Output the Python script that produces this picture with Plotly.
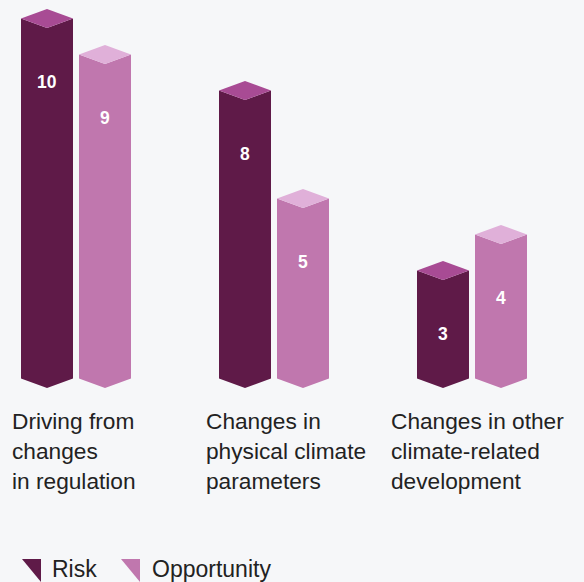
import plotly.graph_objects as go

# ---- data ----
categories = [
    ["Driving from", "changes", "in regulation"],
    ["Changes in", "physical climate", "parameters"],
    ["Changes in other", "climate-related", "development"],
]
series_names = ["Risk", "Opportunity"]
risk_values = [10, 8, 3]
opportunity_values = [9, 5, 4]

# ---- styles ----
W, H = 584, 582
BG = "#f6f7f9"
body_colors = {"Risk": "#5f1a48", "Opportunity": "#c077ae"}
top_colors = {"Risk": "#a84b94", "Opportunity": "#e0b0d9"}
FONT = "Liberation Sans, Arial, Helvetica, sans-serif"

UNIT_PX = 36.0          # pixels per value unit
BASE_PX = 388.0         # pixel row of value 0 (bottom point of bar)
Y_MIN = (BASE_PX - H) / UNIT_PX
Y_MAX = BASE_PX / UNIT_PX
D = 9.5 / UNIT_PX       # half height of the rhombus cap (value units)

GROUP_X0, GROUP_STEP = 76, 198
BAR_OFFSET, BAR_HALF = 29, 26


def py(p):
    """pixel row -> y data value"""
    return (BASE_PX - p) / UNIT_PX


fig = go.Figure()

series_values = {"Risk": risk_values, "Opportunity": opportunity_values}
for s_idx, name in enumerate(series_names):
    vals = series_values[name]
    for g, v in enumerate(vals):
        c = GROUP_X0 + GROUP_STEP * g + (BAR_OFFSET if s_idx else -BAR_OFFSET)
        L, R = c - BAR_HALF, c + BAR_HALF
        # body
        fig.add_trace(go.Scatter(
            x=[L, L, c, R, R, c, L], y=[D, v + D, v, v + D, D, 0, D],
            fill="toself", fillcolor=body_colors[name], mode="lines",
            line=dict(width=0), hoverinfo="skip", showlegend=False))
        # cap
        fig.add_trace(go.Scatter(
            x=[L, c, R, c, L], y=[v + D, v + 2 * D, v + D, v, v + D],
            fill="toself", fillcolor=top_colors[name], mode="lines",
            line=dict(width=0), hoverinfo="skip", showlegend=False))
        fig.add_annotation(x=c, y=v - 54 / UNIT_PX, text=f"<b>{v}</b>",
                           showarrow=False, xanchor="center", yanchor="middle",
                           font=dict(family=FONT, size=17.5, color="white"))

# category labels
label_x = [10, 204, 389]
for g, lines in enumerate(categories):
    for i, line in enumerate(lines):
        fig.add_annotation(x=label_x[g], y=py(421 + 30 * i), text=line,
                           showarrow=False, xanchor="left", yanchor="middle",
                           font=dict(family=FONT, size=22.7, color="#222222"))

# legend (right-angle triangle glyphs + text)
legend_tri_left = [22, 121]
TRI_W, TRI_TOP, TRI_BOT = 19, 559, 582
legend_text_x = [50, 150]
for s_idx, name in enumerate(series_names):
    l = legend_tri_left[s_idx]
    fig.add_trace(go.Scatter(
        x=[l, l + TRI_W, l + TRI_W, l],
        y=[py(TRI_TOP), py(TRI_TOP), py(TRI_BOT), py(TRI_TOP)],
        fill="toself", fillcolor=body_colors[name], mode="lines",
        line=dict(width=0), hoverinfo="skip", showlegend=False))
    fig.add_annotation(x=legend_text_x[s_idx], y=py(569), text=name,
                       showarrow=False, xanchor="left", yanchor="middle",
                       font=dict(family=FONT, size=23, color="#222222"))

fig.update_layout(
    width=W, height=H, margin=dict(l=0, r=0, t=0, b=0),
    paper_bgcolor=BG, plot_bgcolor=BG, showlegend=False,
    xaxis=dict(range=[0, W], visible=False, fixedrange=True),
    yaxis=dict(range=[Y_MIN, Y_MAX], visible=False, fixedrange=True),
)
fig.write_html("out.html")
